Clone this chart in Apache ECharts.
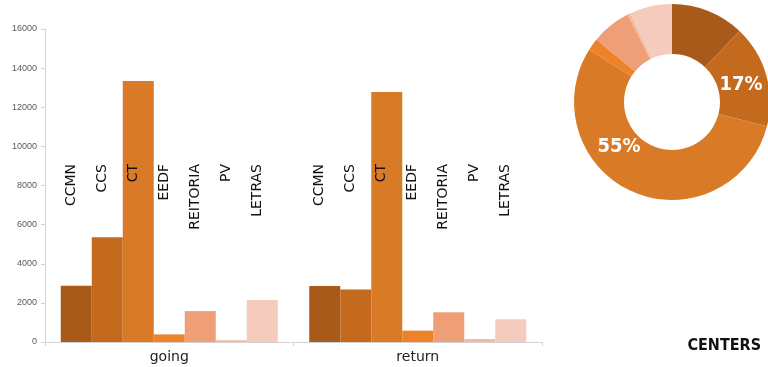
<!DOCTYPE html>
<html>
<head>
<meta charset="utf-8">
<script src="https://cdn.jsdelivr.net/npm/echarts@6/dist/echarts.min.js"></script>
<style>
  html, body { margin: 0; padding: 0; background: #ffffff; }
  #chart { width: 768px; height: 367px; }
</style>
</head>
<body>
<div id="chart"></div>
<script>
// Trips per university center, split by direction
const directions = ['going', 'return'];
const centers = ['CCMN', 'CCS', 'CT', 'EEDF', 'REITORIA', 'PV', 'LETRAS'];
const ccmn     = [2880, 2860];
const ccs      = [5350, 2690];
const ct       = [13340, 12780];
const eedf     = [390, 580];
const reitoria = [1580, 1520];
const pv       = [90, 150];
const letras   = [2150, 1160];
const yTicks   = { min: 0, max: 16000, interval: 2000 };

const seriesValues = [ccmn, ccs, ct, eedf, reitoria, pv, letras];
const palette = ['#a85a1a', '#c46a1f', '#d97a26', '#ed8228', '#ee9f78', '#f2b9a0', '#f5cbbd'];

const labelFont = '"DejaVu Sans", sans-serif';
const condensed = '"DejaVu Sans Condensed", "Liberation Sans Narrow", sans-serif';

const barSeries = centers.map((name, i) => ({
  name: name,
  type: 'bar',
  data: seriesValues[i],
  barWidth: 31,
  barGap: '0%',
  itemStyle: { color: palette[i] },
  label: {
    show: true,
    formatter: '{a}',
    rotate: 90,
    fontSize: 14,
    color: '#111',
    fontFamily: labelFont
  },
  // center names sit on one common baseline above the bars
  labelLayout: function (p) {
    return {
      x: p.rect.x + p.rect.width / 2 - 5,
      y: 164,
      align: 'right',
      verticalAlign: 'middle'
    };
  }
}));

// Share of all trips per center (both directions together)
const totals = centers.map((name, i) => ({
  name: name,
  value: seriesValues[i].reduce((a, b) => a + b, 0),
  itemStyle: { color: palette[i] },
  label: { show: name === 'CCS' || name === 'CT' }
}));

const chart = echarts.init(document.getElementById('chart'), null, { renderer: 'canvas' });

chart.setOption({
  animation: false,
  backgroundColor: '#ffffff',
  title: {
    text: 'CENTERS',
    right: 2,
    bottom: 8,
    textStyle: { fontFamily: condensed, fontWeight: 'bold', fontSize: 16, color: '#111' }
  },
  grid: { left: 45, right: 226, top: 29, bottom: 25, containLabel: false },
  xAxis: {
    type: 'category',
    data: directions,
    axisLine: { lineStyle: { color: '#d4d4d4' } },
    axisTick: { show: true, length: 4, lineStyle: { color: '#d4d4d4' } },
    axisLabel: { fontSize: 14, color: '#222', fontFamily: labelFont, margin: 8 }
  },
  yAxis: {
    type: 'value',
    min: yTicks.min,
    max: yTicks.max,
    interval: yTicks.interval,
    axisLine: { show: true, lineStyle: { color: '#d4d4d4' } },
    axisTick: { show: true, length: 4, lineStyle: { color: '#d4d4d4' } },
    axisLabel: {
      fontSize: 9,
      color: '#595959',
      fontFamily: '"Liberation Sans", sans-serif',
      margin: 8,
      formatter: v => String(v)
    },
    splitLine: { show: false }
  },
  series: barSeries.concat([{
    name: 'share',
    type: 'pie',
    center: [672, 102],
    radius: [48, 98],
    startAngle: 90,
    clockwise: true,
    avoidLabelOverlap: false,
    data: totals,
    itemStyle: { borderWidth: 0 },
    label: {
      position: 'inside',
      formatter: p => Math.round(p.percent) + '%',
      color: '#ffffff',
      fontSize: 20,
      fontWeight: 'bold',
      fontFamily: condensed
    },
    labelLine: { show: false },
    labelLayout: function (p) {
      if (p.dataIndex === 1) return { x: 741, y: 85 };
      if (p.dataIndex === 2) return { x: 619, y: 147 };
      return {};
    }
  }])
});
</script>
</body>
</html>
